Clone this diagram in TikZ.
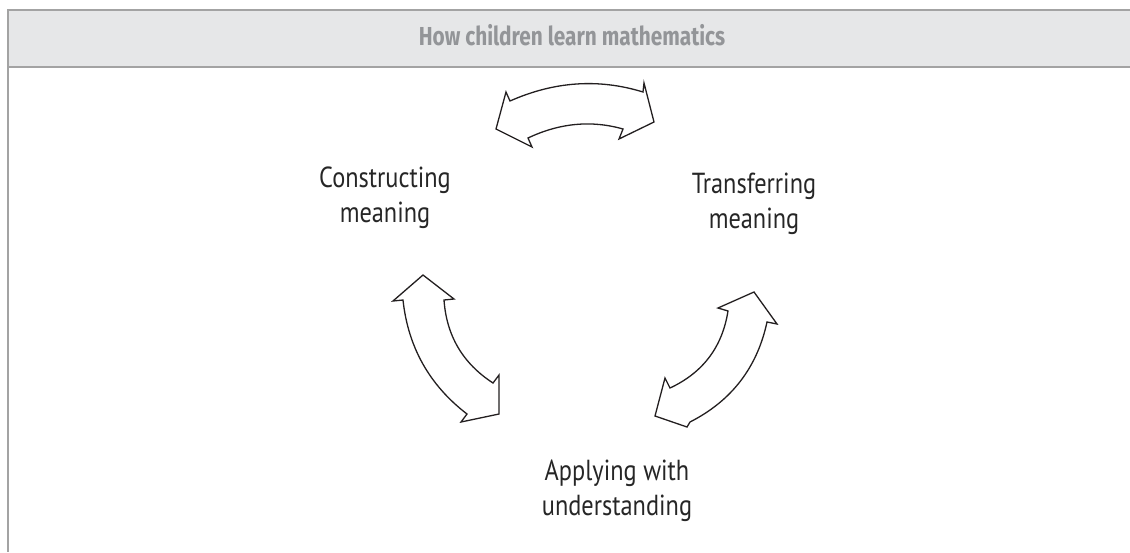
\documentclass[tikz,border=0pt]{standalone}
\usepackage{fontspec}
\setmainfont{PT Sans}[FakeStretch=0.84]
\newfontfamily\titlefont{Fira Sans}[FakeStretch=0.8]
\usetikzlibrary{calc}
\definecolor{hdrfill}{HTML}{E6E7E8}
\definecolor{hdrline}{HTML}{A3A3A3}
\definecolor{hdrtext}{HTML}{939598}
\definecolor{arrowline}{HTML}{231F20}
\tikzset{
  lbl/.style={align=center, font=\fontsize{29}{35}\selectfont, text=black!85, inner sep=0pt},
  blockarrow/.style={draw=arrowline, line width=1.3pt, fill=white, line join=miter},
  hdrlabel/.style={font=\titlefont\bfseries\fontsize{26}{30}\selectfont, text=hdrtext, inner sep=0pt}
}
\newcommand{\qarc}[3]{.. controls ($(#1)!0.6667!(#2)$) and ($(#3)!0.6667!(#2)$) .. (#3)}
\begin{document}
\begin{tikzpicture}[x=1pt,y=-1pt]
\useasboundingbox (0,0) rectangle (1130,552);
% header
\fill[hdrfill] (8,10) rectangle (1130,67);
\draw[hdrline, line width=1.5pt] (1130,10) -- (8,10) -- (8,552);
\draw[hdrline, line width=1.5pt] (8,67) -- (1130,67);
\node[hdrlabel] (title) at (572,35) {How children learn mathematics};
% labels
\node[lbl] (construct) at (385,198) {Constructing\\meaning};
\node[lbl] (transfer) at (754,204) {Transferring\\meaning};
\node[lbl] (apply) at (617,491) {Applying with\\understanding};
% top arrow
\coordinate (t1) at (510,101); \coordinate (tq1) at (576.5,71.5); \coordinate (t2) at (643,92);
\coordinate (t3) at (623,129); \coordinate (tq2) at (575.5,115.5); \coordinate (t4) at (528,138);
\draw[blockarrow] (t1) \qarc{t1}{tq1}{t2} -- (644,83) -- (654,122) -- (619,139) -- (t3)
  \qarc{t3}{tq2}{t4} -- (532,147) -- (496,129) -- (506,92) -- cycle;
% left arrow
\coordinate (l1) at (444,300); \coordinate (lq1) at (447.8,353.7); \coordinate (l2) at (493,383);
\coordinate (l3) at (467,414); \coordinate (lq2) at (410.6,370.7); \coordinate (l4) at (403,300);
\draw[blockarrow] (423,275) -- (454,299) -- (l1) \qarc{l1}{lq1}{l2} -- (499,375) -- (499,414) -- (461,422) -- (l3)
  \qarc{l3}{lq2}{l4} -- (393,301) -- cycle;
% right arrow
\coordinate (r1) at (728,311); \coordinate (rq1) at (719.5,364.9); \coordinate (r2) at (670,388);
\coordinate (r3) at (690,422); \coordinate (rq2) at (752.3,390.3); \coordinate (r4) at (767,322);
\draw[blockarrow] (754,292) -- (718,308) -- (r1) \qarc{r1}{rq1}{r2} -- (665,378) -- (655,416) -- (687,427) -- (r3)
  \qarc{r3}{rq2}{r4} -- (777,324) -- cycle;
\end{tikzpicture}
\end{document}
